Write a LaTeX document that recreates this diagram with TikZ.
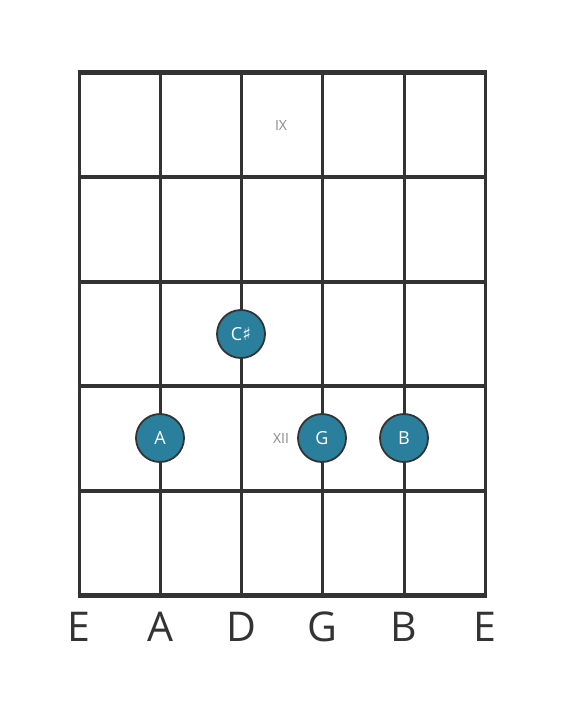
\documentclass[tikz,border=0pt]{standalone}
\usepackage{fontspec}
\setmainfont{Open Sans}
\newfontfamily\symfont{DejaVu Sans}
\definecolor{gridc}{HTML}{333333}
\definecolor{dotc}{HTML}{2A809C}
\definecolor{lblc}{HTML}{8A8A8A}
\begin{document}
\begin{tikzpicture}[x=1pt,y=-1pt,
  fretline/.style={draw=gridc,line width=4.8pt},
  stringline/.style={draw=gridc,line width=3pt},
  notedot/.style={circle,draw=gridc,line width=1.8pt,fill=dotc,minimum size=48pt,inner sep=0pt,text=white,font=\fontsize{18}{18}\selectfont},
  strlabel/.style={text=gridc,font=\fontsize{41}{41}\selectfont,inner sep=0pt},
  fretlabel/.style={text=lblc,font=\fontsize{14}{14}\selectfont,inner sep=0pt}]
\useasboundingbox[fill=white] (0,0) rectangle (566,711);
% strings
\foreach \x [count=\i] in {79,160,241,322,404,485}{
  \coordinate (st\i) at (\x,72.5);
  \coordinate (sb\i) at (\x,595.5);
  \draw[stringline] (st\i) -- (sb\i);
}
% frets
\foreach \y [count=\j] in {72.5,177,282,386,491,595.5}{
  \coordinate (fl\j) at (77.5,\y);
  \coordinate (fr\j) at (486.5,\y);
  \draw[fretline] (fl\j) -- (fr\j);
}
% fret labels
\node[fretlabel] (ix) at (281,126) {IX};
\node[fretlabel] (xii) at (281,438.5) {XII};
% notes
\node[notedot] (cs) at (241,334) {C{\symfont\char"266F}};
\node[notedot] (na) at (160,438) {A};
\node[notedot] (ng) at (322,438) {G};
\node[notedot] (nb) at (404,438) {B};
% string labels
\foreach \x/\n [count=\i] in {79/E,160/A,241/D,322/G,404/B,485/E}{
  \node[strlabel] (lab\i) at (\x,627) {\n};
}
\end{tikzpicture}
\end{document}
